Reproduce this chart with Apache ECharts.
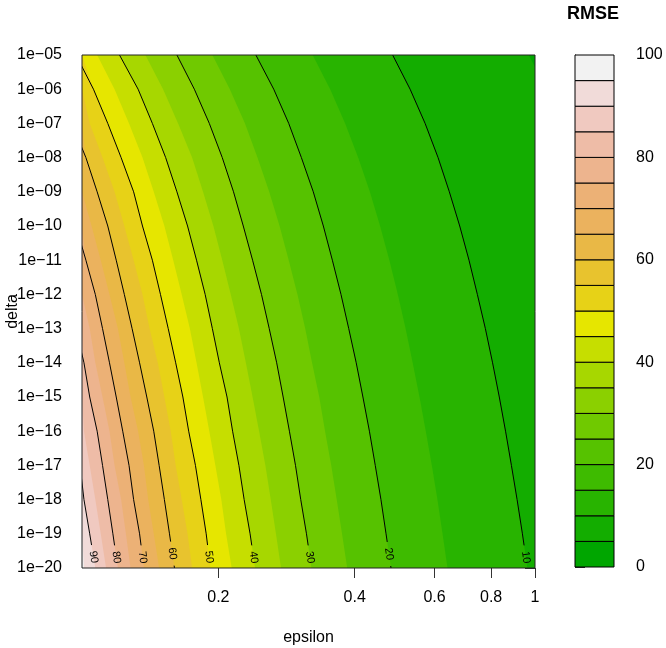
<!DOCTYPE html>
<html>
<head>
<meta charset='utf-8' />
<title></title>
<style>
html, body { margin: 0; padding: 0; background: #fff; }
#chart { width: 666px; height: 648px; }
</style>
</head>
<body>
<div id="chart"></div>
<script src="https://cdn.jsdelivr.net/npm/echarts@6/dist/echarts.min.js"></script>
<script>
// delta = 1e-N, rows read at every tick of the delta axis
var deltaExp = [5, 6, 7, 8, 9, 10, 11, 12, 13, 14, 15, 16, 17, 18, 19, 20];

// epsilon where each RMSE contour crosses the rows above
var eps5  = [0.969, 1.060, 1.143, 1.221, 1.295, 1.364, 1.430, 1.493, 1.553, 1.611, 1.668, 1.722, 1.775, 1.826, 1.876, 1.924];
var eps10 = [0.485, 0.530, 0.572, 0.611, 0.647, 0.682, 0.715, 0.746, 0.777, 0.806, 0.834, 0.861, 0.887, 0.913, 0.938, 0.962];
var eps15 = [0.323, 0.353, 0.381, 0.407, 0.432, 0.455, 0.477, 0.498, 0.518, 0.537, 0.556, 0.574, 0.592, 0.609, 0.625, 0.641];
var eps20 = [0.242, 0.265, 0.286, 0.305, 0.324, 0.341, 0.357, 0.373, 0.388, 0.403, 0.417, 0.431, 0.444, 0.457, 0.469, 0.481];
var eps25 = [0.194, 0.212, 0.229, 0.244, 0.259, 0.273, 0.286, 0.299, 0.311, 0.322, 0.334, 0.344, 0.355, 0.365, 0.375, 0.385];
var eps30 = [0.162, 0.177, 0.191, 0.204, 0.216, 0.227, 0.238, 0.249, 0.259, 0.269, 0.278, 0.287, 0.296, 0.304, 0.313, 0.321];
var eps35 = [0.138, 0.151, 0.163, 0.175, 0.185, 0.195, 0.204, 0.213, 0.222, 0.230, 0.238, 0.246, 0.254, 0.261, 0.268, 0.275];
var eps40 = [0.121, 0.133, 0.143, 0.153, 0.162, 0.171, 0.179, 0.187, 0.194, 0.201, 0.209, 0.215, 0.222, 0.228, 0.235, 0.241];
var eps45 = [0.108, 0.118, 0.127, 0.136, 0.144, 0.152, 0.159, 0.166, 0.173, 0.179, 0.185, 0.191, 0.197, 0.203, 0.208, 0.214];
var eps50 = [0.097, 0.106, 0.114, 0.122, 0.130, 0.136, 0.143, 0.149, 0.155, 0.161, 0.167, 0.172, 0.178, 0.183, 0.188, 0.192];
var eps55 = [0.088, 0.096, 0.104, 0.111, 0.118, 0.124, 0.130, 0.136, 0.141, 0.147, 0.152, 0.157, 0.161, 0.166, 0.171, 0.175];
var eps60 = [0.081, 0.088, 0.095, 0.102, 0.108, 0.114, 0.119, 0.124, 0.129, 0.134, 0.139, 0.144, 0.148, 0.152, 0.156, 0.160];
var eps65 = [0.075, 0.082, 0.088, 0.094, 0.100, 0.105, 0.110, 0.115, 0.120, 0.124, 0.128, 0.133, 0.137, 0.140, 0.144, 0.148];
var eps70 = [0.069, 0.076, 0.082, 0.087, 0.093, 0.097, 0.102, 0.107, 0.111, 0.115, 0.119, 0.123, 0.127, 0.130, 0.134, 0.137];
var eps75 = [0.065, 0.071, 0.076, 0.081, 0.086, 0.091, 0.095, 0.100, 0.104, 0.107, 0.111, 0.115, 0.118, 0.122, 0.125, 0.128];
var eps80 = [0.061, 0.066, 0.072, 0.076, 0.081, 0.085, 0.089, 0.093, 0.097, 0.101, 0.104, 0.108, 0.111, 0.114, 0.117, 0.120];
var eps85 = [0.057, 0.062, 0.067, 0.072, 0.076, 0.080, 0.084, 0.088, 0.091, 0.095, 0.098, 0.101, 0.104, 0.107, 0.110, 0.113];
var eps90 = [0.054, 0.059, 0.064, 0.068, 0.072, 0.076, 0.079, 0.083, 0.086, 0.090, 0.093, 0.096, 0.099, 0.101, 0.104, 0.107];
var eps95 = [0.051, 0.056, 0.060, 0.064, 0.068, 0.072, 0.075, 0.079, 0.082, 0.085, 0.088, 0.091, 0.093, 0.096, 0.099, 0.101];

var fillLevels = [5, 10, 15, 20, 25, 30, 35, 40, 45, 50, 55, 60, 65, 70, 75, 80, 85, 90, 95];
var fillEps = [eps5, eps10, eps15, eps20, eps25, eps30, eps35, eps40, eps45, eps50,
               eps55, eps60, eps65, eps70, eps75, eps80, eps85, eps90, eps95];

// black contour lines and where their labels sit (delta exponent)
var lineLevels = [10, 20, 30, 40, 50, 60, 70, 80, 90];
var lineEps = [eps10, eps20, eps30, eps40, eps50, eps60, eps70, eps80, eps90];
var labelExp = [19.69, 19.59, 19.69, 19.69, 19.68, 19.58, 19.69, 19.69, 19.68];

// colour key
var keyLevels = [0, 5, 10, 15, 20, 25, 30, 35, 40, 45, 50, 55, 60, 65, 70, 75, 80, 85, 90, 95, 100];
var keyColors = ['#00A600', '#13AD00', '#28B400', '#3EBB00', '#56C200', '#70C900', '#8BD000', '#A7D700', '#C6DE00', '#E6E600',
                 '#E7D217', '#E8C32E', '#E9B846', '#EBB25E', '#ECB176', '#EDB48E', '#EEBCA7', '#F0C9C0', '#F1DBD9', '#F2F2F2'];

var epsTicks = [0.2, 0.4, 0.6, 0.8, 1];

var FONT = '"Liberation Sans", Arial, sans-serif';

function lg(v) { return Math.log(v) / Math.LN10; }

function contourPoints(api, eps, clampLeft) {
  var left = api.coord([-1, -5])[0];
  var pts = [];
  for (var i = 0; i < deltaExp.length; i++) {
    var p = api.coord([lg(eps[i]), -deltaExp[i]]);
    if (clampLeft && p[0] < left) p[0] = left;
    pts.push(p);
  }
  return pts;
}

// x position and segment angle of a polyline at a given pixel y
function atY(pts, y) {
  for (var k = 1; k < pts.length; k++) {
    var a = pts[k - 1], b = pts[k];
    if (y >= a[1] && y <= b[1]) {
      var t = (y - a[1]) / (b[1] - a[1]);
      return { x: a[0] + t * (b[0] - a[0]), ang: Math.atan2(b[1] - a[1], b[0] - a[0]) };
    }
  }
  return null;
}

function renderFill(params, api) {
  var i = api.value(0);
  if (i === 0) {
    var p0 = api.coord([-1, -5]), p1 = api.coord([0, -20]);
    return { type: 'rect', shape: { x: p0[0], y: p0[1], width: p1[0] - p0[0], height: p1[1] - p0[1] },
             style: { fill: keyColors[0] } };
  }
  var pts = contourPoints(api, fillEps[i - 1], true);
  pts.push(api.coord([-1, -20]));
  pts.push(api.coord([-1, -5]));
  return { type: 'polygon', shape: { points: pts }, style: { fill: keyColors[i] } };
}

function renderLine(params, api) {
  var i = api.value(0);
  var pts = contourPoints(api, lineEps[i], false);
  var yc = api.coord([-1, -labelExp[i]])[1];
  var gap = 12;
  var top = [], bottom = [];
  pts.forEach(function (p) { if (p[1] < yc - gap) top.push(p); });
  var a = atY(pts, yc - gap);
  if (a) top.push([a.x, yc - gap]);
  var b = atY(pts, yc + gap);
  if (b) bottom.push([b.x, yc + gap]);
  pts.forEach(function (p) { if (p[1] > yc + gap) bottom.push(p); });
  var c = atY(pts, yc);
  var children = [
    { type: 'polyline', shape: { points: top }, style: { stroke: '#000', lineWidth: 1, fill: null } }
  ];
  if (bottom.length > 1) {
    children.push({ type: 'polyline', shape: { points: bottom }, style: { stroke: '#000', lineWidth: 1, fill: null } });
  }
  children.push({
    type: 'text', x: c.x, y: yc, rotation: -c.ang,
    style: { text: String(lineLevels[i]), fill: '#000', fontSize: 11, fontFamily: FONT,
             align: 'center', verticalAlign: 'middle' }
  });
  return { type: 'group', children: children };
}

function renderFrame(params, api) {
  var p0 = api.coord([-1, -5]), p1 = api.coord([0, -20]);
  return { type: 'rect', shape: { x: p0[0], y: p0[1], width: p1[0] - p0[0], height: p1[1] - p0[1] },
           style: { fill: null, stroke: '#222', lineWidth: 1 } };
}

function renderKey(params, api) {
  var i = api.value(0);
  var p0 = api.coord([0, keyLevels[i + 1]]), p1 = api.coord([1, keyLevels[i]]);
  return { type: 'rect', shape: { x: p0[0], y: p0[1], width: p1[0] - p0[0], height: p1[1] - p0[1] },
           style: { fill: keyColors[i], stroke: '#000', lineWidth: 1 } };
}

var myChart = echarts.init(document.getElementById('chart'));

var option = {
  animation: false,
  backgroundColor: '#fff',
  title: {
    text: 'RMSE', left: 567, top: 5, padding: 0,
    textStyle: { fontSize: 18, fontWeight: 'bold', color: '#000', fontFamily: FONT }
  },
  grid: [
    { left: 82, right: 131, top: 55, bottom: 80, outerBoundsMode: 'none', containLabel: false },
    { left: 575, right: 52, top: 55, bottom: 81, outerBoundsMode: 'none', containLabel: false }
  ],
  xAxis: [
    {
      type: 'value', gridIndex: 0, min: -1, max: 0,
      axisLine: { show: false }, splitLine: { show: false },
      axisTick: { show: true, length: 10, customValues: epsTicks.map(lg), lineStyle: { color: '#333' } },
      axisLabel: {
        customValues: epsTicks.map(lg), margin: 22, fontSize: 16, color: '#000', fontFamily: FONT,
        formatter: function (v) { return String(+Math.pow(10, v).toFixed(1)); }
      },
      name: 'epsilon', nameLocation: 'middle', nameGap: 62, nameMoveOverlap: false,
      nameTextStyle: { fontSize: 16, color: '#000', fontFamily: FONT }
    },
    { type: 'value', gridIndex: 1, min: 0, max: 1, show: false }
  ],
  yAxis: [
    {
      type: 'value', gridIndex: 0, min: -20, max: -5, interval: 1,
      axisLine: { show: false }, splitLine: { show: false },
      axisTick: { show: true, length: 10, lineStyle: { color: '#333' } },
      axisLabel: {
        margin: 20, fontSize: 16, color: '#000', fontFamily: FONT,
        formatter: function (v) { var n = Math.abs(v); return '1e\u2212' + (n < 10 ? '0' + n : n); }
      },
      name: 'delta', nameLocation: 'middle', nameGap: 61, nameMoveOverlap: false,
      nameTextStyle: { fontSize: 16, color: '#000', fontFamily: FONT }
    },
    {
      type: 'value', gridIndex: 1, min: 0, max: 100, interval: 20, position: 'right',
      axisLine: { show: true, lineStyle: { color: '#000' } }, splitLine: { show: false },
      axisTick: { show: true, length: 10, lineStyle: { color: '#333' } },
      axisLabel: { margin: 22, fontSize: 16, color: '#000', fontFamily: FONT }
    }
  ],
  series: [
    {
      type: 'custom', xAxisIndex: 0, yAxisIndex: 0, clip: true, renderItem: renderFill,
      data: keyColors.map(function (c, i) { return [i]; })
    },
    {
      type: 'custom', xAxisIndex: 0, yAxisIndex: 0, clip: true, renderItem: renderLine,
      data: lineLevels.map(function (l, i) { return [i]; })
    },
    {
      type: 'custom', xAxisIndex: 0, yAxisIndex: 0, renderItem: renderFrame, data: [[0]]
    },
    {
      type: 'custom', xAxisIndex: 1, yAxisIndex: 1, renderItem: renderKey,
      data: keyColors.map(function (c, i) { return [i]; })
    }
  ]
};

myChart.setOption(option);
</script>
</body>
</html>
